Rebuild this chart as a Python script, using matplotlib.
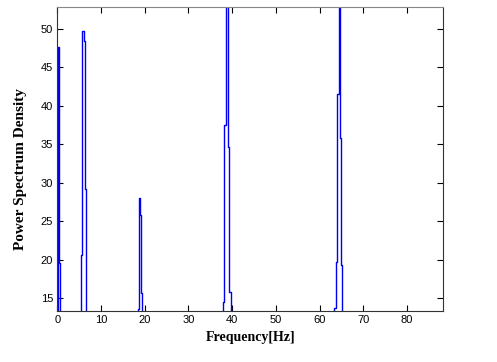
import matplotlib
matplotlib.use("Agg")
import matplotlib.pyplot as plt

# spectrum points (values below 13.3 are off-axis)
freq = [0.0, 0.1, 0.4, 0.6, 0.8,
        5.3, 5.5, 5.9, 6.15, 6.4, 6.65,
        18.3, 18.55, 18.8, 19.1, 19.35, 19.6,
        37.7, 38.0, 38.35, 38.85, 39.15, 39.5, 39.8,
        63.2, 63.45, 63.9, 64.15, 64.6, 64.85, 65.05, 65.3,
        88.5]
psd = [5.0, 47.7, 47.6, 19.5, 5.0,
       5.0, 20.6, 49.7, 48.5, 29.2, 5.0,
       5.0, 13.6, 28.0, 25.8, 15.7, 5.0,
       5.0, 14.5, 37.5, 85.0, 34.7, 15.8, 5.0,
       5.0, 13.7, 19.7, 41.6, 90.0, 35.8, 19.3, 5.0,
       5.0]

xticks = [0, 10, 20, 30, 40, 50, 60, 70, 80]
yticks = [15, 20, 25, 30, 35, 40, 45, 50]

fig = plt.figure(figsize=(4.97, 3.62), dpi=100)
ax = fig.add_axes([0.1153, 0.1409, 0.7767, 0.8406])
ax.plot(freq, psd, color="#0000ee", lw=1.0, drawstyle="steps-mid")
ax.set_xlim(0, 88.3)
ax.set_ylim(13.3, 52.9)
ax.set_xticks(xticks)
ax.set_yticks(yticks)
ax.tick_params(direction="in", top=True, right=True, length=4, width=0.8,
               labelsize=8, pad=3)
for lab in ax.get_xticklabels() + ax.get_yticklabels():
    lab.set_family("Liberation Sans")
for s in ax.spines.values():
    s.set_color("#333333")
    s.set_linewidth(0.8)
ax.spines["top"].set_color("#888888")
ax.set_xlabel("Frequency[Hz]", family="Liberation Serif", fontweight="bold",
              fontsize=10, labelpad=4)
ax.set_ylabel("Power Spectrum Density", family="Liberation Serif",
              fontweight="bold", fontsize=11)
ax.yaxis.set_label_coords(-0.078, 0.468)
fig.savefig("out.png", dpi=100)
